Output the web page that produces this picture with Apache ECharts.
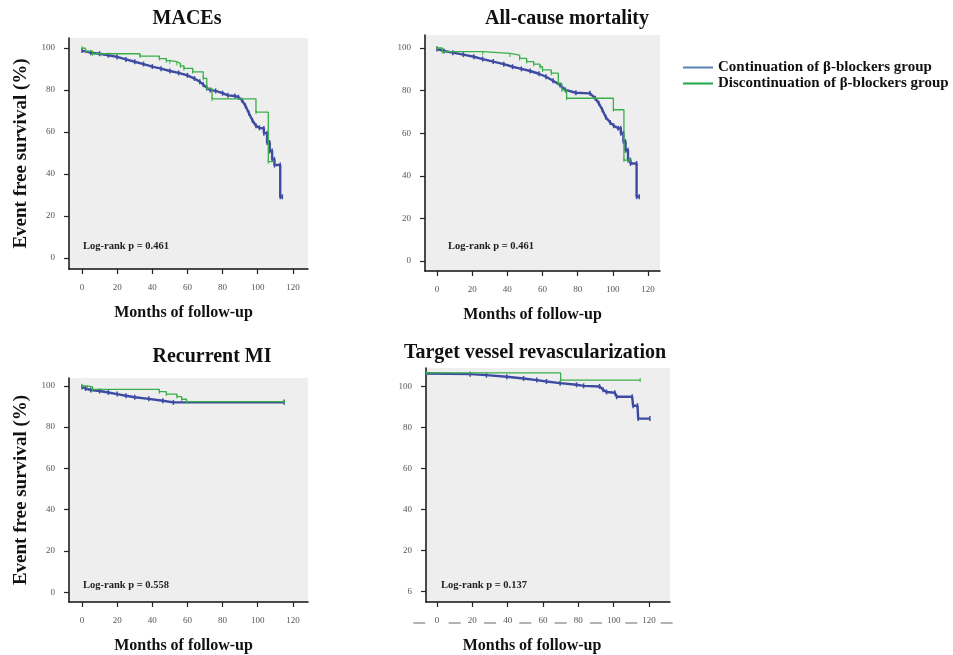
<!DOCTYPE html>
<html>
<head>
<meta charset="utf-8">
<script src="https://cdn.jsdelivr.net/npm/echarts@6/dist/echarts.min.js"></script>
<style>
html,body{margin:0;padding:0;background:#fff;}
#chart{width:953px;height:655px;}
</style>
</head>
<body>
<div id="chart"></div>
<script>
// ---------- DATA ----------
var seriesNames = ['Continuation of β-blockers group', 'Discontinuation of β-blockers group'];
var panelTitles = ['MACEs', 'All-cause mortality', 'Recurrent MI', 'Target vessel revascularization'];
var pValueTexts = ['Log-rank p = 0.461', 'Log-rank p = 0.461', 'Log-rank p = 0.558', 'Log-rank p = 0.137'];
var xTickValues = [0, 20, 40, 60, 80, 100, 120];
var yTickValues = [0, 20, 40, 60, 80, 100];
var yTickLabels = ['0', '20', '40', '60', '80', '100'];
var tvrYTickLabels = ['6', '20', '40', '60', '80', '100'];
var tvrDashTicks = [-10, 10, 30, 50, 70, 90, 110, 130];

// Continuation group: [month, survival %]
var macesCont = [[0,98.8],[5,97.8],[10,97.3],[15,96.6],[20,95.8],[25,94.6],[30,93.5],[35,92.4],[40,91.2],[45,90.2],[50,89.1],[55,88.2],[60,87],[64,85.5],[67,84],[69,82.6],[71,81],[73,80],[76,79.6],[80,78.5],[83,77.5],[87,77.2],[89,76.6],[91,75.2],[93,72.5],[95,69],[97,65.5],[99,63],[101,62],[103.5,61.7],[103.5,59.5],[105.3,59.5],[105.3,55],[106.8,55],[106.8,51],[108.2,51],[108.2,47],[109.5,47],[109.5,44.3],[112.8,44.3],[112.8,29.2],[114,29.2]];
var mortCont = [[0,99.5],[4,98.6],[9,97.8],[15,96.9],[21,95.9],[26,94.8],[32,93.6],[38,92.4],[43,91.2],[48,90.2],[53,89.2],[58,87.9],[62,86.5],[66,84.6],[70,82.6],[73,80.3],[79,79],[87,78.7],[90,76.4],[92,74],[94,71],[96,67.5],[98.5,65],[100.5,63.5],[103,62.3],[104.5,62.3],[104.5,60],[106,60],[106,56],[107.2,56],[107.2,52],[108.6,52],[108.6,47.4],[110,47.4],[110,45.8],[113.5,45.8],[113.5,30.2],[115,30.2]];
var miCont = [[0,99.5],[2,98.7],[5,98],[10,97.5],[15,96.8],[20,96],[25,95.2],[30,94.5],[38,93.7],[46,92.8],[52,92],[115,92]];
var tvrCont = [[-6,106.3],[18.8,106],[28,105.5],[39.5,104.7],[49,103.9],[56.5,103.1],[62,102.4],[69.7,101.6],[79,100.8],[83,100.3],[92,100],[94,98.4],[96,97.3],[100.7,96.9],[101.7,95],[110.5,95],[111,90.6],[113.5,90.6],[113.9,84.3],[120.5,84.3]];
// Discontinuation group: [month, survival %] – value drops to survival at that month
var macesDisc = [[0,100],[2,98.5],[6,97.3],[33,96.2],[44,95],[48,94],[50,93.5],[54,92.7],[56,91.5],[58,90.3],[63,88.7],[69,85.6],[71,80.8],[74,75.8],[99,69.5],[106,45.9],[109,45.9]];
var mortDisc = [[0,100],[3,98.3],[26,97.5],[41.5,96.7],[47,95.1],[51,93.6],[55,92.4],[58.6,91.2],[60,89.7],[65,88.2],[69,83.4],[71,80.3],[73.7,76.4],[100.3,71],[106.3,47.4],[109.8,47.4]];
var miDisc = [[0,100],[3,99.5],[6,98.3],[44,97.2],[48,96],[54,94.8],[56.7,93.5],[59.5,92.4],[115,92.4]];
var tvrDisc = [[-6,106.6],[70,103.1],[115,103.1]];

// ---------- STYLE / LAYOUT ----------
var SERIF = '"Liberation Serif", "DejaVu Serif", serif';
var BLUE = '#3d4ba2', GREEN = '#3aae48';
var grids = [
  {left: 69, top: 38, width: 239, height: 231},
  {left: 425, top: 35, width: 235, height: 236},
  {left: 69, top: 378, width: 239, height: 229},
  {left: 426, top: 368, width: 244, height: 241}
];
var xRanges = [[-7.4, 128.6], [-6.8, 126.8], [-7.4, 128.6], [-6.2, 131.9]];
var yRanges = [[-5.2, 104.8], [-4.7, 106.1], [-4.7, 103.8], [-5.2, 109]];
var contData = [macesCont, mortCont, miCont, tvrCont];
var discData = [macesDisc, mortDisc, miDisc, tvrDisc];

var chart = echarts.init(document.getElementById('chart'), null, {renderer: 'canvas'});

var xAxes = [], yAxes = [], series = [], titles = [];
var titlePos = [[187, 9], [567, 9], [212, 347], [535, 343]];
var xNamePad = [[0,10,0,0],[0,20,0,0],[0,10,0,0],[0,32,0,0]];

for (var i = 0; i < 4; i++) {
  grids[i].show = true;
  grids[i].backgroundColor = '#eeeeee';
  grids[i].borderWidth = 0;
  grids[i].containLabel = false;
  xAxes.push({
    type: 'value', gridIndex: i, min: xRanges[i][0], max: xRanges[i][1],
    splitLine: {show: false},
    axisLine: {show: true, onZero: false, lineStyle: {color: '#111', width: 1.5}},
    axisTick: {show: true, customValues: xTickValues, length: 5, inside: false, lineStyle: {color: '#222', width: 1.2}},
    axisLabel: {customValues: xTickValues, margin: 14, fontFamily: SERIF, fontSize: 9, color: '#555'},
    name: 'Months of follow-up', nameLocation: 'middle', nameGap: 36,
    nameTextStyle: {fontFamily: SERIF, fontWeight: 'bold', fontSize: 16, color: '#111', padding: xNamePad[i]}
  });
  var labs = (i === 3) ? tvrYTickLabels : yTickLabels;
  yAxes.push({
    type: 'value', gridIndex: i, min: yRanges[i][0], max: yRanges[i][1],
    splitLine: {show: false},
    axisLine: {show: true, onZero: false, lineStyle: {color: '#111', width: 1.5}},
    axisTick: {show: true, customValues: yTickValues, length: 5, lineStyle: {color: '#222', width: 1.2}},
    axisLabel: {customValues: yTickValues, margin: 14, fontFamily: SERIF, fontSize: 9, color: '#555',
      formatter: (function (l) { return function (v) { var k = yTickValues.indexOf(Math.round(v)); return k >= 0 ? l[k] : ''; }; })(labs)},
    name: (i === 0 || i === 2) ? 'Event free survival (%)' : '',
    nameLocation: 'middle', nameGap: 38,
    nameTextStyle: {fontFamily: SERIF, fontWeight: 'bold', fontSize: 19, color: '#111'}
  });
  series.push({
    name: seriesNames[0], type: 'line', xAxisIndex: i, yAxisIndex: i,
    data: contData[i], showSymbol: true, symbol: 'rect', symbolSize: [1.5, 5],
    itemStyle: {color: BLUE}, lineStyle: {color: BLUE, width: 2.4}, emphasis: {disabled: true}, z: 2
  });
  series.push({
    name: seriesNames[1], type: 'line', step: 'end', xAxisIndex: i, yAxisIndex: i,
    data: discData[i], showSymbol: true, symbol: 'rect', symbolSize: [1, 4],
    itemStyle: {color: GREEN}, lineStyle: {color: GREEN, width: 1.3}, emphasis: {disabled: true}, z: 3
  });
  titles.push({
    text: panelTitles[i], left: titlePos[i][0], top: titlePos[i][1], textAlign: 'center', padding: 0,
    textStyle: {fontFamily: SERIF, fontWeight: 'bold', fontSize: 20, color: '#111'}
  });
}

var pPos = [[83, 241], [448, 241], [83, 580], [441, 580]];
var graphics = [];
for (var j = 0; j < 4; j++) {
  graphics.push({type: 'text', left: pPos[j][0], top: pPos[j][1],
    style: {text: pValueTexts[j], font: 'bold 10.5px ' + SERIF, fill: '#222'}});
}

chart.setOption({
  animation: false,
  backgroundColor: '#ffffff',
  title: titles,
  legend: {
    orient: 'vertical', left: 678, top: 55, itemWidth: 30, itemHeight: 2, itemGap: 1, icon: 'rect',
    textStyle: {fontFamily: SERIF, fontWeight: 'bold', fontSize: 15, color: '#111'},
    data: [
      {name: seriesNames[0], itemStyle: {color: '#5b80b6'}},
      {name: seriesNames[1], itemStyle: {color: '#1fa64a'}}
    ],
    selectedMode: false
  },
  grid: grids,
  xAxis: xAxes,
  yAxis: yAxes,
  series: series,
  graphic: graphics
});

// dashed marks under the TVR x axis
var dashEls = [];
tvrDashTicks.forEach(function (v) {
  var px = chart.convertToPixel({xAxisIndex: 3}, v);
  dashEls.push({type: 'line', shape: {x1: px - 6, y1: 623, x2: px + 6, y2: 623}, style: {stroke: '#9a9a9a', lineWidth: 1.5}});
});
chart.setOption({graphic: graphics.concat(dashEls)});
</script>
</body>
</html>
